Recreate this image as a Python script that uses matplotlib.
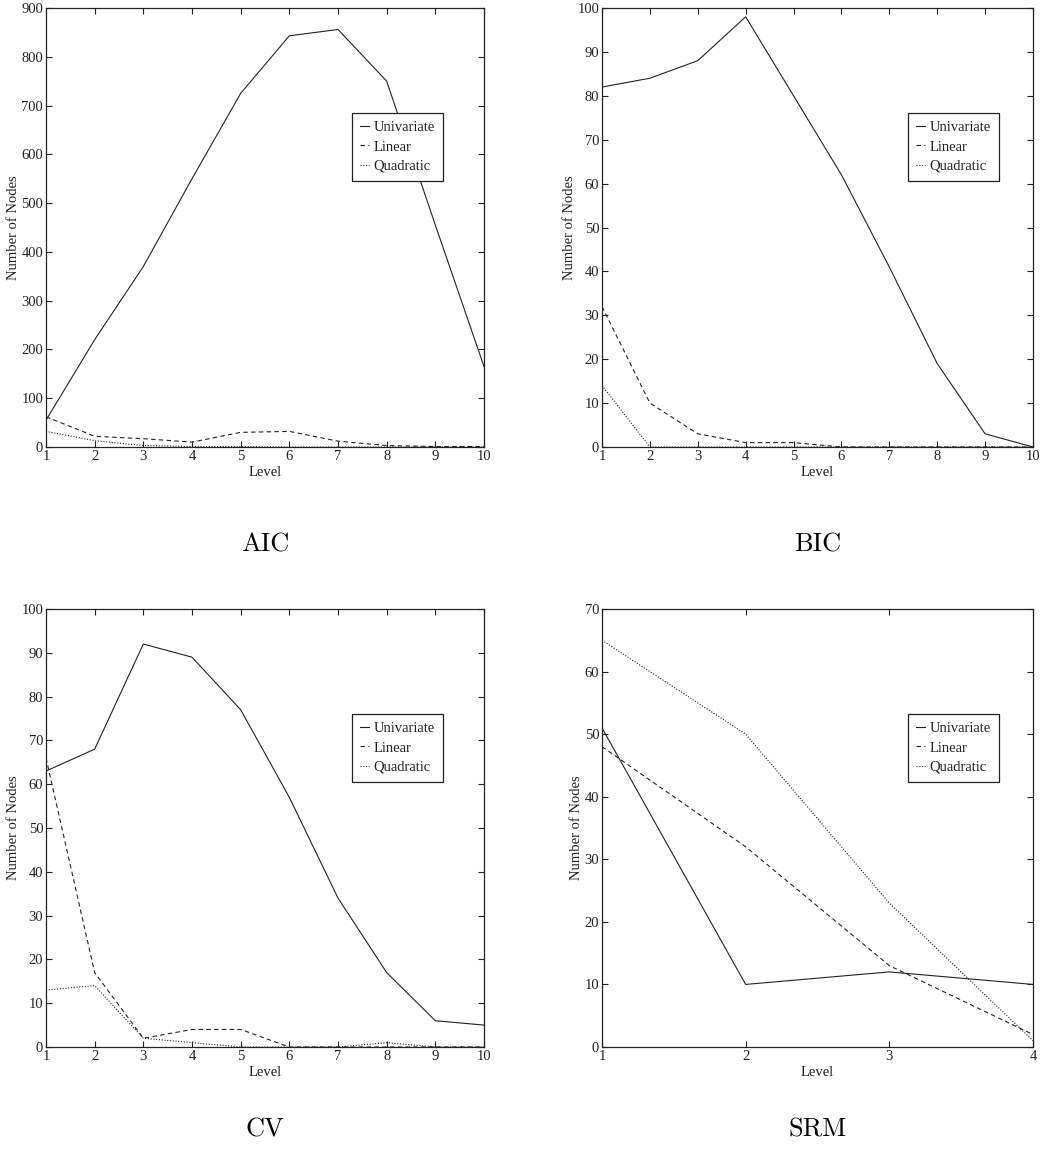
import matplotlib
matplotlib.use("Agg")
import matplotlib.pyplot as plt

plt.rcParams['font.family'] = ['Liberation Serif', 'DejaVu Serif']
plt.rcParams['mathtext.fontset'] = 'cm'

series_names = ["Univariate", "Linear", "Quadratic"]

levels10 = [1, 2, 3, 4, 5, 6, 7, 8, 9, 10]
levels4 = [1, 2, 3, 4]

aic_uni = [55, 220, 370, 550, 725, 843, 856, 750, 455, 165]
aic_lin = [62, 22, 17, 10, 30, 32, 12, 3, 1, 1]
aic_quad = [32, 13, 3, 1, 1, 0, 0, 0, 0, 0]

bic_uni = [82, 84, 88, 98, 80, 62, 41, 19, 3, 0]
bic_lin = [32, 10, 3, 1, 1, 0, 0, 0, 0, 0]
bic_quad = [14, 0, 0, 0, 0, 0, 0, 0, 0, 0]

cv_uni = [63, 68, 92, 89, 77, 57, 34, 17, 6, 5]
cv_lin = [66, 17, 2, 4, 4, 0, 0, 0, 0, 0]
cv_quad = [13, 14, 2, 1, 0, 0, 0, 1, 0, 0]

srm_uni = [51, 10, 12, 10]
srm_lin = [48, 32, 13, 2]
srm_quad = [65, 50, 23, 1]

panels = [
    ("AIC", levels10, (aic_uni, aic_lin, aic_quad), 900, 100),
    ("BIC", levels10, (bic_uni, bic_lin, bic_quad), 100, 10),
    ("CV", levels10, (cv_uni, cv_lin, cv_quad), 100, 10),
    ("SRM", levels4, (srm_uni, srm_lin, srm_quad), 70, 10),
]

W, H = 1052, 1158
fig = plt.figure(figsize=(W / 100, H / 100), dpi=100)

# axes boxes in pixels: left, top, right, bottom
boxes = [(46, 8, 484, 447), (602, 8, 1033, 447),
         (46, 609, 484, 1047), (602, 609, 1033, 1047)]
title_pos = [(265, 545), (818, 545), (265, 1130), (818, 1130)]

styles = [dict(ls='-'), dict(ls=(0, (4, 3))), dict(ls=(0, (1, 1.5)))]
ink = '#222222'

for (name, x, ys, ymax, ystep), (l, t, r, b), (tx, ty) in zip(panels, boxes, title_pos):
    ax = fig.add_axes([l / W, 1 - b / H, (r - l) / W, (b - t) / H])
    for y, st, lab in zip(ys, styles, series_names):
        ax.plot(x, y, color=ink, lw=0.8, label=lab, **st)
    ax.set_xlim(x[0], x[-1])
    ax.set_ylim(0, ymax)
    ax.set_xticks(x)
    ax.set_yticks(range(0, ymax + 1, ystep))
    ax.tick_params(direction='in', top=True, right=True, length=4, width=0.8,
                   labelsize=10.5, pad=2, colors=ink)
    for s in ax.spines.values():
        s.set_linewidth(0.9)
        s.set_color(ink)
    ax.set_xlabel("Level", fontsize=10.5, color=ink, labelpad=2)
    ax.set_ylabel("Number of Nodes", fontsize=10.5, color=ink, labelpad=1)
    # legend box top-left sits ~306 px right of and ~105 px below the axes corner
    leg = ax.legend(loc='upper left', bbox_to_anchor=(306 / (r - l), 1 - 105 / (b - t)),
                    borderaxespad=0, fontsize=10.5,
                    handlelength=0.6, handletextpad=0.35, borderpad=0.55,
                    labelspacing=0.42, fancybox=False, framealpha=1,
                    edgecolor=ink)
    leg.get_frame().set_linewidth(0.9)
    for txt in leg.get_texts():
        txt.set_color(ink)
    fig.text(tx / W, 1 - ty / H, name, family='cmr10', fontsize=19,
             ha='center', va='center', color='black')

fig.savefig("out.png", dpi=100)
